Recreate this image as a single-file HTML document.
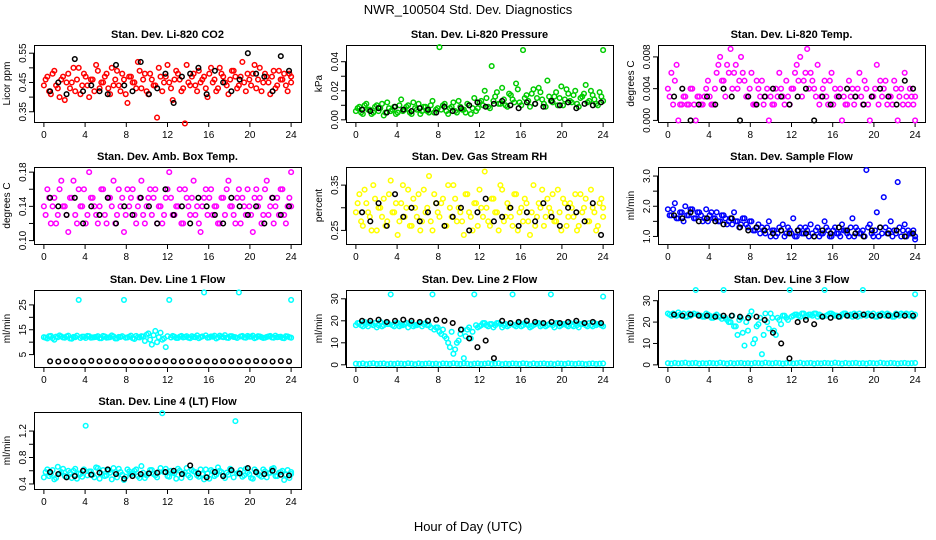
<!DOCTYPE html>
<html><head><meta charset="utf-8"><style>
body{margin:0;background:#fff;}
svg{display:block;font-family:"Liberation Sans",sans-serif;}
</style></head><body>
<svg id="chart" width="936" height="540" viewBox="0 0 936 540">
<text x="468" y="14" text-anchor="middle" font-size="13">NWR_100504  Std. Dev. Diagnostics</text>
<text x="468" y="531" text-anchor="middle" font-size="13">Hour of Day (UTC)</text>
</svg>
<script>
const xTicks=[0,4,8,12,16,20,24];
const titles=["Stan. Dev. Li-820 CO2","Stan. Dev. Li-820 Pressure","Stan. Dev. Li-820 Temp.","Stan. Dev. Amb. Box Temp.","Stan. Dev. Gas Stream RH","Stan. Dev. Sample Flow","Stan. Dev. Line 1 Flow","Stan. Dev. Line 2 Flow","Stan. Dev. Line 3 Flow","Stan. Dev. Line 4 (LT) Flow"];
const yLabels=["Licor ppm","kPa","degrees C","degrees C","percent","ml/min","ml/min","ml/min","ml/min","ml/min"];
const colors=["#ff0000","#00cc00","#ff00ff","#ff00ff","#ffff00","#0000ff","#00ffff","#00ffff","#00ffff","#00ffff"];
const yTicks=[[0.35,0.4,0.45,0.5,0.55],[0,0.01,0.02,0.03,0.04],[0,0.004,0.008],[0.1,0.12,0.14,0.16,0.18],[0.25,0.3,0.35],[1,1.5,2,2.5,3],[5,10,15,20,25],[0,10,20,30],[0,10,20,30],[0.4,0.6,0.8,1.0,1.2]];
const yTickLabels=[["0.35","","0.45","","0.55"],["0.00","","0.02","","0.04"],["0.000","0.004","0.008"],["0.10","","0.14","","0.18"],["0.25","","0.35"],["1.0","","2.0","","3.0"],["5","","15","","25"],["0","10","20","30"],["0","10","20","30"],["0.4","","0.8","","1.2"]];
const yRanges=[[0.315,0.578],[-0.0015,0.0515],[-0.0002,0.0095],[0.096,0.186],[0.22,0.39],[0.75,3.3],[0,31],[-1,34],[-1,35],[0.324,1.488]];

const co2=[.44,.47,.41,.49,.43,.46,.39,.48,.45,.42,.50,.44,.47,.40,.46,.51,.43,.45,.48,.41,.44,.49,.42,.46,.38,.47,.45,.52,.43,.48,.41,.46,.44,.50,.42,.47,.45,.39,.49,.46,.43,.51,.44,.48,.42,.45,.47,.40,.50,.46,.43,.48,.45,.41,.49,.47,.44,.52,.42,.46,.48,.43,.50,.45,.47,.41,.49,.44,.46,.48,.42,.47];
const co2B=[.46,.42,.48,.44,.40,.47,.45,.43,.50,.46,.41,.48,.44,.46,.42,.49,.45,.47,.43,.50,.46,.44,.48,.41,.47,.45,.43,.49,.46,.42,.48,.44,.33,.47,.45,.51,.43,.46,.48,.42,.31,.45,.47,.44,.49,.46,.43,.48,.45,.42,.50,.47,.44,.46,.49,.43,.47,.45,.48,.44,.51,.46,.42,.48,.45,.47,.43,.49,.46,.44,.48,.45];
const co2Ref=[.42,.45,.41,.53,.42,.44,.42,.41,.51,.44,.42,.52,.41,.43,.48,.38,.47,.48,.50,.41,.49,.45,.42,.46,.55,.48,.47,.42,.54,.49];
const pres=[.006,.009,.004,.011,.007,.005,.010,.008,.003,.012,.006,.009,.005,.014,.007,.010,.004,.008,.011,.006,.009,.005,.013,.007,.050,.010,.006,.008,.012,.005,.009,.007,.011,.004,.015,.008,.013,.020,.009,.037,.016,.011,.022,.010,.018,.014,.025,.012,.048,.017,.009,.021,.015,.019,.011,.027,.013,.016,.010,.023,.014,.018,.012,.020,.009,.016,.024,.013,.017,.011,.019,.048];
const presB=[.008,.005,.010,.007,.004,.009,.006,.011,.005,.008,.007,.004,.010,.006,.009,.005,.012,.007,.004,.009,.006,.010,.005,.008,.007,.011,.004,.009,.006,.013,.007,.005,.010,.008,.006,.012,.010,.015,.008,.013,.019,.011,.014,.009,.017,.012,.021,.010,.015,.013,.018,.011,.022,.014,.009,.016,.012,.019,.015,.010,.021,.013,.017,.011,.015,.018,.012,.020,.014,.010,.016,.013];
const presRef=[.007,.006,.008,.005,.009,.007,.006,.008,.007,.005,.009,.006,.008,.010,.012,.009,.011,.013,.010,.008,.012,.011,.009,.013,.010,.012,.008,.011,.010,.012];
const temp=[.004,.006,.005,0,.002,.003,.002,.004,0,.003,.002,.004,.003,.002,.006,.008,.005,.007,.009,.006,.004,.008,.005,.003,.006,.002,.004,.005,.003,0,.002,.004,.006,.003,.005,.002,.004,.007,.008,.005,.009,.006,.004,.007,.003,.005,.002,.006,.004,.003,0,.002,.005,.004,.003,.006,.002,.004,0,.003,.007,.005,.004,.002,.003,.005,0,.004,.006,.002,.003,0];
const tempB=[.003,.002,.007,.002,.003,.002,.004,.002,.003,.002,.003,.005,.002,.004,.007,.005,.003,.006,.004,.007,.005,.006,.003,.004,.002,.005,.003,.002,.004,.003,.002,.003,.004,.002,.003,.004,.006,.005,.003,.006,.004,.005,.003,.002,.004,.003,.005,.002,.003,.004,.003,.002,.003,.002,.004,.003,.005,.002,.003,.004,.002,.003,.005,.003,.002,.004,.003,.002,.003,.004,.002,.003];
const tempRef=[.003,.004,0,.002,.003,.002,.004,.003,0,.003,.002,.003,.004,.003,.002,.003,.004,0,.003,.002,.003,.004,.003,.002,.003,.004,.003,.002,.005,.004];
const box=[.14,.16,.12,.15,.13,.17,.14,.11,.15,.13,.16,.14,.12,.18,.15,.13,.14,.16,.12,.15,.17,.13,.14,.11,.16,.15,.13,.14,.17,.12,.15,.13,.16,.14,.12,.15,.18,.13,.14,.16,.12,.15,.13,.17,.14,.11,.15,.13,.16,.14,.12,.15,.13,.17,.14,.12,.16,.15,.13,.14,.11,.16,.15,.13,.17,.14,.12,.15,.16,.13,.14,.18];
const boxB=[.13,.15,.14,.12,.16,.14,.13,.15,.17,.12,.14,.16,.13,.15,.14,.12,.16,.13,.15,.14,.12,.16,.15,.13,.14,.16,.12,.15,.13,.14,.16,.15,.12,.14,.13,.16,.15,.13,.14,.12,.16,.14,.15,.13,.12,.14,.16,.15,.13,.14,.12,.15,.16,.14,.13,.15,.12,.14,.16,.13,.15,.14,.12,.16,.13,.15,.14,.13,.16,.12,.15,.14];
const boxRef=[.15,.14,.13,.15,.12,.14,.13,.15,.12,.14,.13,.15,.14,.12,.16,.13,.14,.12,.15,.14,.13,.12,.15,.14,.13,.14,.12,.15,.13,.14];
const rh=[.29,.33,.26,.31,.28,.35,.25,.30,.32,.27,.36,.29,.24,.31,.28,.34,.26,.30,.33,.27,.29,.37,.25,.31,.28,.32,.26,.30,.35,.27,.29,.24,.33,.28,.31,.26,.30,.38,.27,.32,.29,.25,.34,.28,.30,.26,.33,.29,.27,.31,.24,.35,.28,.30,.26,.32,.29,.27,.34,.25,.31,.28,.30,.33,.26,.29,.32,.27,.30,.25,.31,.28];
const rhB=[.31,.27,.34,.29,.25,.32,.30,.28,.26,.33,.29,.31,.27,.35,.30,.26,.32,.28,.25,.34,.30,.27,.33,.29,.31,.26,.35,.28,.32,.30,.27,.33,.29,.25,.31,.34,.28,.30,.26,.32,.29,.35,.27,.31,.28,.33,.25,.30,.32,.27,.29,.26,.31,.34,.28,.30,.33,.27,.29,.32,.26,.31,.28,.25,.33,.30,.27,.34,.29,.26,.32,.30];
const rhRef=[.29,.27,.31,.26,.33,.28,.30,.27,.29,.31,.26,.28,.30,.25,.29,.32,.27,.28,.30,.26,.29,.27,.31,.28,.26,.30,.29,.27,.31,.24];
const flow=[1.9,1.7,2.1,1.6,1.8,2.0,1.7,1.9,1.6,1.8,1.5,1.9,1.7,1.6,1.8,1.5,1.7,1.4,1.6,1.8,1.5,1.4,1.6,1.3,1.5,1.2,1.4,1.3,1.1,1.5,1.2,1.0,1.3,1.4,1.1,1.2,1.6,1.0,1.3,1.1,1.2,1.4,1.0,1.3,1.1,1.5,1.2,1.0,1.3,1.1,1.4,1.2,1.0,1.6,1.3,1.1,1.2,3.2,1.4,1.0,1.8,1.3,2.3,1.1,1.5,1.2,2.8,1.0,1.4,1.2,1.1,0.9];
const flowB=[1.7,1.9,1.6,1.8,1.5,1.7,1.9,1.6,1.8,1.7,1.6,1.5,1.8,1.6,1.5,1.7,1.6,1.5,1.4,1.5,1.3,1.6,1.4,1.5,1.2,1.3,1.1,1.2,1.3,1.0,1.2,1.1,1.2,1.0,1.3,1.1,1.0,1.2,1.1,1.3,1.0,1.1,1.2,1.0,1.1,1.3,1.0,1.2,1.1,1.0,1.2,1.1,1.3,1.0,1.2,1.1,1.0,1.3,1.1,1.2,1.0,1.1,1.3,1.2,1.0,1.1,1.3,1.2,1.0,1.1,1.2,1.0];
const flowRef=[1.7,1.6,1.8,1.5,1.6,1.5,1.4,1.6,1.3,1.2,1.3,1.2,1.1,1.2,1.1,1.2,1.1,1.0,1.2,1.1,1.3,1.2,1.1,1.0,1.2,1.3,1.1,1.2,1.0,1.1];
const line1=[12,11.5,12.5,11,12,12.3,11.8,12.6,11.4,12,27,12.2,11.7,12.4,11.9,12.1,11.6,12.5,11.8,12,12.3,11.5,12.1,27,11.9,12.6,11.3,12,12.4,10.5,13.5,9,14.5,12,11,8,27,12.5,11.7,12.2,11.9,12.4,11.6,12.1,12.7,12,30,11.8,12.3,12.6,11.9,12.2,12.8,11.7,12.4,12,30,12.5,11.8,12.2,12.6,11.9,12.3,11.7,12.1,12.5,11.8,12,12.2,11.6,12.3,27];
const line1B=[11.8,12.4,11.6,12.2,12.7,11.9,12.3,11.5,12.1,12.6,11.7,12.2,12.5,11.8,12,12.4,11.6,12.3,11.9,12.7,11.5,12.1,12.4,11.8,12.2,11.6,12.5,11.9,12.3,13,11,12.8,10,13.8,11.5,12.4,11.9,12.2,11.7,12.5,12.1,11.8,12.4,12,11.6,12.3,12.7,11.9,12.2,11.5,12.6,12,11.8,12.4,12.1,11.7,12.3,11.9,12.5,12.2,11.6,12.4,12,11.8,12.3,11.9,12.6,12.1,11.7,12.4,12,11.8];
const line1Ref=[2.3,2.2,2.4,2.3,2.2,2.5,2.3,2.4,2.2,2.3,2.4,2.3,2.2,2.3,2.4,2.3,2.2,2.4,2.3,2.3,2.2,2.4,2.3,2.2,2.3,2.4,2.3,2.2,2.4,2.3];
const line2=[18,19,17.5,18.5,19,18,17,19.5,18,18.5,32,17.5,19,18,18.5,17,19,18,18.5,17.5,19,18,32,17,15,16,12,8,5,10,14,3,16,12,32,17,18,19,17.5,18.5,18,19,17,18.5,18,32,17.5,19,18,18.5,17,18,19,17.5,18.5,18,32,17,19,18,18.5,17.5,18,19,17,18.5,18,19,17.5,18,18.5,31];
const line2Low=[0.5,0.4,0.6,0.3,0.5,0.7,0.4,0.5,0.6,0.3,0.5,0.4,0.6,0.5,0.4,0.7,0.5,0.3,0.6,0.4,0.5,0.6,0.4,0.5,0.3,0.6,0.5,0.4,0.7,0.5,0.4,0.6,0.5,0.3,0.5,0.6,0.4,0.5,0.7,0.4,0.5,0.6,0.3,0.5,0.4,0.6,0.5,0.4,0.7,0.5,0.3,0.6,0.4,0.5,0.6,0.4,0.5,0.3,0.6,0.5,0.4,0.7,0.5,0.4,0.6,0.5,0.3,0.5,0.6,0.4,0.5,0.6];
const line2B=[19,18,19.5,17.5,18.5,19,18,17.5,19,18.5,18,19,17.5,18,19,18.5,17.5,18,19,18.5,18,17,16,17,14,13,10,15,7,11,16,13,17,15,18,17.5,19,18,18.5,17,19,18.5,18,17.5,19,18,18.5,17.5,19,18,17.5,18.5,19,18,17.5,18.5,18,19,17.5,18.5,18,19,17.5,18,18.5,19,17.5,18,19,18.5,18,17.5];
const line2Ref=[20,20,20.5,19.5,20,20.5,20,19.5,20,20.5,20,19,16,12,8,11,3,20,19,19.5,20,19.5,19,19.5,19,19.5,20,19,19.5,19];
const line3=[24,23,23.5,24.5,23,22.5,24,23.5,35,23,22.5,24,23,22,23.5,22.5,35,21,20,18,14,22,9,16,25,12,19,5,24,17,22,14,21,23,22,35,23,23.5,22.5,24,23,23.5,24,22.5,23,35,23.5,24,23,22.5,23.5,24,23,22.5,23.5,24,35,23,23.5,24,22.5,23,23.5,24,23,22.5,23.5,24,23,23.5,24,33];
const line3Low=[0.8,0.6,0.9,0.7,0.8,1.0,0.7,0.8,0.9,0.6,0.8,0.7,0.9,0.8,0.7,1.0,0.8,0.6,0.9,0.7,0.8,0.9,0.7,0.8,0.6,0.9,0.8,0.7,1.0,0.8,0.7,0.9,0.8,0.6,0.8,0.9,0.7,0.8,1.0,0.7,0.8,0.9,0.6,0.8,0.7,0.9,0.8,0.7,1.0,0.8,0.6,0.9,0.7,0.8,0.9,0.7,0.8,0.6,0.9,0.8,0.7,1.0,0.8,0.7,0.9,0.8,0.6,0.8,0.9,0.7,0.8,0.9];
const line3B=[23.5,24,23,23.5,24,22.5,23,24,23.5,23,22.5,23.5,22,23,22.5,21.5,22,20,23,18,21,15,20,23,10,18,22,14,20,24,16,22,19,23,21,22.5,23.5,23,24,22.5,23.5,23,24,23.5,22.5,23,24,23.5,23,22.5,24,23,23.5,24,22.5,23,23.5,24,23,22.5,23.5,24,23,23.5,22.5,24,23,23.5,24,23,22.5,23.5];
const line3Ref=[23.5,23,23.5,23,23,22.5,23,23,22.5,22,22.5,21,15,10,3,20,21,19,22.5,22,22.5,23,23,23.5,23,23,23,23.5,23,23];
const line4=[.50,.62,.55,.47,.66,.58,.52,.60,.49,.63,.56,.51,1.28,.59,.54,.65,.48,.61,.53,.57,.64,.50,.58,.46,.62,.55,.60,.52,.67,.49,.56,.61,.53,.58,1.47,.63,.51,.57,.48,.60,.55,.64,.50,.59,.53,.62,.47,.56,.61,.52,.65,.58,.49,.54,.60,1.35,.57,.51,.63,.55,.48,.59,.53,.62,.50,.57,.64,.52,.58,.46,.61,.55];
const line4B=[.58,.52,.61,.49,.56,.63,.51,.57,.60,.48,.55,.62,.53,.59,.50,.64,.56,.52,.60,.47,.58,.63,.54,.51,.59,.56,.62,.49,.57,.53,.61,.55,.50,.64,.58,.52,.60,.56,.63,.49,.57,.53,.61,.58,.51,.55,.62,.48,.59,.54,.60,.52,.57,.63,.50,.56,.61,.53,.58,.49,.62,.55,.51,.59,.56,.63,.52,.57,.60,.54,.49,.58];
const line4Ref=[.58,.55,.50,.52,.60,.54,.57,.62,.55,.48,.52,.55,.56,.57,.58,.60,.55,.68,.56,.50,.58,.52,.61,.56,.64,.58,.55,.60,.54,.53];

const series=[[co2,co2B],[pres,presB],[temp,tempB],[box,boxB],[rh,rhB],[flow,flowB],[line1,line1B],[line2,line2B,line2Low],[line3,line3B,line3Low],[line4,line4B]];
const refs=[co2Ref,presRef,tempRef,boxRef,rhRef,flowRef,line1Ref,line2Ref,line3Ref,line4Ref];

const NS="http://www.w3.org/2000/svg";
const svg=document.getElementById('chart');
function mk(tag,attrs,parent){const e=document.createElementNS(NS,tag);for(const k in attrs)e.setAttribute(k,attrs[k]);(parent||svg).appendChild(e);return e;}
const colX=[34,346,658], rowY=[45,167,290,412], W=267, H=77;
const xMin=-0.96, xMax=24.96;

titles.forEach((t,p)=>{
  const bx=colX[p%3], by=rowY[Math.floor(p/3)];
  const g=mk('g',{});
  
  
  const xs=v=>bx+(v-xMin)/(xMax-xMin)*W;
  const [y0,y1]=yRanges[p];
  const ys=v=>by+H-(v-y0)/(y1-y0)*H;
  const tt=mk('text',{x:bx+W/2,y:by-7,'text-anchor':'middle','font-size':11,'font-weight':'bold'},g);
  tt.textContent=t;
  
  
  const yl=mk('text',{x:0,y:0,'text-anchor':'middle','font-size':10,transform:`translate(${bx-24},${by+H/2}) rotate(-90)`},g);
  yl.textContent=yLabels[p];
  
  
  const xa=mk('g',{stroke:'#000','stroke-width':1},g);
  
  
  mk('line',{x1:xs(0),x2:xs(24),y1:by+H+0.5,y2:by+H+0.5},xa);
  xTicks.forEach(v=>{
    mk('line',{x1:xs(v),x2:xs(v),y1:by+H,y2:by+H+5},xa);
    const tl=mk('text',{x:xs(v),y:by+H+16,'text-anchor':'middle','font-size':10,stroke:'none'},g);
    tl.textContent=v;
    
    
  });
  const ya=mk('g',{stroke:'#000','stroke-width':1},g);
  
  
  const yt=yTicks[p];
  mk('line',{x1:bx-0.5,x2:bx-0.5,y1:ys(yt[0]),y2:ys(yt[yt.length-1])},ya);
  yt.forEach((v,i)=>{
    mk('line',{x1:bx-5,x2:bx,y1:ys(v),y2:ys(v)},ya);
    if(!yTickLabels[p][i]) return;
    const tl=mk('text',{x:0,y:0,'text-anchor':'middle','font-size':10,transform:`translate(${bx-8},${ys(v)}) rotate(-90)`},g);
    tl.textContent=yTickLabels[p][i];
    
    
  });
  const fr=mk('rect',{x:bx+0.5,y:by+0.5,width:W,height:H,fill:'none',stroke:'#000','stroke-width':1},g);
  
  
  const pts=mk('g',{fill:'none',stroke:colors[p],'stroke-width':1.5},g);
  
  
  series[p].forEach((arr,k)=>{
    const off=k===1?12/(arr.length-1):0;
    arr.forEach((v,i)=>{
      const c=mk('circle',{cx:xs(Math.min(24,i*24/(arr.length-1)+off)),cy:ys(v),r:2.3},pts);
      
      
    });
  });
  const rp=mk('g',{fill:'none',stroke:'#000','stroke-width':1.5},g);
  
  
  const ra=refs[p];
  ra.forEach((v,i)=>{
    const c=mk('circle',{cx:xs(0.6+i*23.2/(ra.length-1)),cy:ys(v),r:2.3},rp);
    
    
  });
});
</script>
</body></html>
